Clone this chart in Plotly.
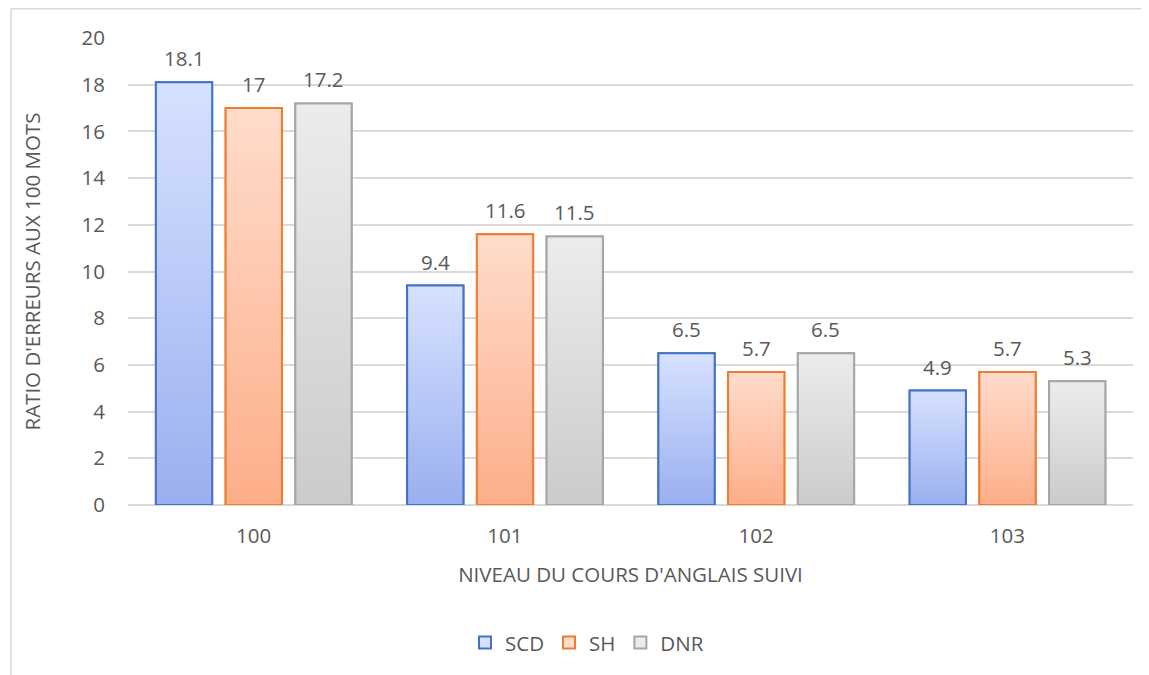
import plotly.graph_objects as go

# ---- data ----
categories = ["100", "101", "102", "103"]
series_names = ["SCD", "SH", "DNR"]
scd_values = [18.1, 9.4, 6.5, 4.9]
sh_values = [17, 11.6, 5.7, 5.7]
dnr_values = [17.2, 11.5, 6.5, 5.3]
y_ticks = [0, 2, 4, 6, 8, 10, 12, 14, 16, 18, 20]

x_title = "NIVEAU DU COURS D'ANGLAIS SUIVI"
y_title = "RATIO D'ERREURS AUX 100 MOTS"

# ---- styles ----
FONT = "Open Sans"
TXT = "#595959"
FS = 20.5
outline = ["#4472C4", "#ED7D31", "#A5A5A5"]
grad_top = ["#D7E1FF", "#FFDCCC", "#ECECEC"]
grad_bot = ["#9AAFEF", "#FDAE89", "#CBCBCB"]
bar_w = 0.224
step = 0.2775
offsets = [-0.389, -0.389 + step, -0.389 + 2 * step]

all_values = [scd_values, sh_values, dnr_values]
xpos = list(range(len(categories)))

fig = go.Figure()

# base bar traces (legend + structure)
for s, name in enumerate(series_names):
    fig.add_trace(go.Bar(
        x=xpos, y=all_values[s], name=name,
        width=bar_w, offset=offsets[s],
        marker=dict(color=grad_top[s], line=dict(color=outline[s], width=2)),
        hoverinfo="skip",
    ))

# gradient fills drawn over each bar
for s in range(len(series_names)):
    for i, v in enumerate(all_values[s]):
        x0 = xpos[i] + offsets[s]
        x1 = x0 + bar_w
        fig.add_trace(go.Scatter(
            x=[x0, x0, x1, x1, x0], y=[0, v, v, 0, 0],
            mode="lines", fill="toself",
            fillgradient=dict(type="vertical",
                              colorscale=[[0, grad_bot[s]], [1, grad_top[s]]],
                              start=0, stop=v),
            line=dict(color=outline[s], width=2),
            showlegend=False, hoverinfo="skip",
        ))

# data labels
for s in range(len(series_names)):
    for i, v in enumerate(all_values[s]):
        fig.add_annotation(
            x=xpos[i] + offsets[s] + bar_w / 2, y=v, text=f"{v:g}",
            showarrow=False, yanchor="middle", yshift=24,
            font=dict(family=FONT, size=FS, color=TXT),
        )

# chart border
fig.add_shape(type="rect", xref="paper", yref="paper",
              x0=-0.1164, x1=1.2, y0=-0.6, y1=1.0625,
              line=dict(color="#D9D9D9", width=1.5), layer="below")

fig.update_layout(
    width=1141, height=667,
    margin=dict(l=120, r=16, t=30, b=170),
    paper_bgcolor="white", plot_bgcolor="white",
    barmode="overlay",
    font=dict(family=FONT, size=FS, color=TXT),
    showlegend=True,
    legend=dict(orientation="h", x=0.4567, xanchor="center",
                y=-0.295, yanchor="middle",
                font=dict(family=FONT, size=FS, color=TXT)),
    xaxis=dict(range=[-0.5, 3.5], tickvals=xpos, ticktext=categories,
               showgrid=False, zeroline=False, showline=False,
               ticks="outside", ticklen=12, tickcolor="rgba(0,0,0,0)",
               title=dict(text=x_title, standoff=20,
                          font=dict(family=FONT, size=FS, color=TXT))),
    yaxis=dict(range=[0, 20], tickvals=y_ticks,
               showgrid=True, gridcolor="#D9D9D9", gridwidth=1.5,
               zeroline=True, zerolinecolor="#D9D9D9", zerolinewidth=1.5,
               showline=False,
               ticks="outside", ticklen=18, tickcolor="rgba(0,0,0,0)",
               title=dict(text=y_title, standoff=35,
                          font=dict(family=FONT, size=FS, color=TXT))),
)

fig.write_html("out.html")
